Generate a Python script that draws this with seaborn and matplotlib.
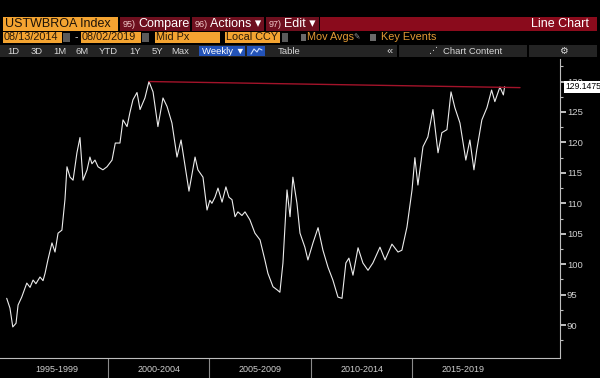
import numpy as np
import pandas as pd
import seaborn as sns
import matplotlib.pyplot as plt
from matplotlib.patches import Rectangle
from matplotlib.lines import Line2D
from matplotlib.transforms import blended_transform_factory

# USTWBROA weekly index (x in decimal years)
years = [1995.01, 1995.17, 1995.31, 1995.47, 1995.57, 1995.75, 1996.00, 1996.16, 1996.31, 1996.45,
         1996.65, 1996.80, 1996.90, 1997.04, 1997.24, 1997.39, 1997.54, 1997.73, 1997.88, 1997.98,
         1998.13, 1998.28, 1998.47, 1998.62, 1998.77, 1998.97, 1999.11, 1999.21, 1999.36, 1999.51,
         1999.75, 1999.95, 2000.20, 2000.36, 2000.59, 2000.74, 2000.94, 2001.08, 2001.23, 2001.43,
         2001.58, 2001.82, 2002.02, 2002.22, 2002.46, 2002.71, 2002.91, 2003.15, 2003.40, 2003.60,
         2003.79, 2003.99, 2004.29, 2004.43, 2004.68, 2004.88, 2005.02, 2005.12, 2005.27, 2005.42,
         2005.62, 2005.81, 2005.96, 2006.11, 2006.26, 2006.40, 2006.60, 2006.75, 2006.99, 2007.24,
         2007.49, 2007.73, 2007.88, 2008.13, 2008.33, 2008.47, 2008.62, 2008.82, 2008.97, 2009.11,
         2009.31, 2009.46, 2009.70, 2009.85, 2010.10, 2010.35, 2010.59, 2010.84, 2011.08, 2011.33,
         2011.53, 2011.72, 2011.87, 2012.07, 2012.32, 2012.56, 2012.81, 2013.05, 2013.40, 2013.65,
         2013.99, 2014.29, 2014.48, 2014.73, 2014.98, 2015.12, 2015.27, 2015.52, 2015.76, 2016.01,
         2016.26, 2016.45, 2016.70, 2016.90, 2017.09, 2017.34, 2017.63, 2017.83, 2018.03, 2018.17,
         2018.42, 2018.67, 2018.90, 2019.06, 2019.31, 2019.48, 2019.54]
index_values = [94.4, 92.8, 89.7, 90.3, 93.3, 94.6, 96.9, 96.2, 97.4, 96.8,
                97.9, 97.3, 98.5, 100.7, 103.5, 102.0, 105.1, 105.6, 110.6, 116.0,
                114.3, 113.8, 118.3, 120.8, 113.8, 115.5, 117.6, 116.5, 117.1, 116.0,
                115.5, 116.0, 117.1, 119.9, 119.9, 123.7, 122.6, 124.9, 127.0, 128.2,
                125.4, 127.3, 130.0, 128.3, 122.6, 127.3, 125.9, 123.2, 117.6, 120.4,
                116.3, 112.0, 117.6, 115.5, 114.3, 108.9, 110.5, 110.0, 111.0, 112.5,
                110.2, 112.7, 111.0, 110.6, 107.8, 108.6, 108.0, 108.6, 107.3, 105.1,
                104.0, 100.7, 98.5, 96.3, 95.8, 95.4, 100.2, 112.2, 107.8, 114.3,
                110.0, 105.1, 102.8, 100.7, 103.5, 106.0, 102.3, 99.5, 97.4, 94.6,
                94.4, 100.2, 101.0, 98.2, 102.7, 100.2, 99.0, 100.2, 102.8, 100.7,
                103.3, 102.0, 102.3, 106.1, 112.2, 117.5, 113.0, 119.3, 120.9, 125.4,
                118.3, 121.6, 122.1, 128.3, 125.7, 123.2, 117.1, 120.4, 115.5, 118.8,
                123.7, 125.7, 128.6, 126.7, 129.1, 127.8, 129.1475]

# red line across the 2002 high and the 2019 highs
resistance_years = [2002.02, 2020.3]
resistance_values = [130.0, 129.0]

last_value = 129.1475
period_edges = [2000, 2005, 2010, 2015]
period_mids = [1997.5, 2002.5, 2007.5, 2012.5, 2017.5]
period_labels = ['1995-1999', '2000-2004', '2005-2009', '2010-2014', '2015-2019']
y_ticks = [90, 95, 100, 105, 110, 115, 120, 125, 130]

W, H = 600, 378
ORANGE = '#f4a431'
DARKRED = '#6e0f1e'
BARRED = '#8a0b1c'
GREY = '#242424'
BLUE = '#2353b8'

sns.set_theme(style='dark', rc={'axes.facecolor': 'black', 'figure.facecolor': 'black',
                                'axes.grid': False})
plt.rcParams['font.family'] = ['Liberation Sans', 'DejaVu Sans']

fig = plt.figure(figsize=(6, 3.78), dpi=100)
ax = fig.add_axes([0, 1 - 358 / H, 560 / W, (358 - 59) / H])

df = pd.DataFrame({'year': years, 'value': index_values})
sns.lineplot(data=df, x='year', y='value', color='#ececec', lw=0.8, ax=ax)
sns.lineplot(x=resistance_years, y=resistance_values, color='#a3132a', lw=1.0, ax=ax)

ax.set_xlim(1994.68, 2022.27)
ax.set_ylim(84.6, 133.7)
ax.set_xlabel('')
ax.set_ylabel('')

# spines
for s in ['left', 'top']:
    ax.spines[s].set_visible(False)
for s in ['right', 'bottom']:
    ax.spines[s].set_visible(True)
    ax.spines[s].set_color('#bdbdbd')
    ax.spines[s].set_linewidth(0.8)

# right y axis
ax.yaxis.tick_right()
ax.set_yticks(y_ticks)
ax.set_yticks(np.arange(87.5, 133, 5), minor=True)
ax.tick_params(axis='y', which='major', direction='out', length=4, width=1.2, color='#e0e0e0',
               labelcolor='#cfcfcf', labelsize=6.8, pad=1)
ax.tick_params(axis='y', which='minor', direction='out', length=2, width=0.8, color='#bdbdbd')

# x axis: yearly minor ticks, labels in the middle of each 5-year block
ax.set_xticks(period_mids)
ax.set_xticklabels(period_labels)
ax.set_xticks(np.arange(1996, 2023, 1), minor=True)
ax.tick_params(axis='x', which='major', length=0, labelcolor='#cfcfcf', labelsize=6.5, pad=5)
ax.tick_params(axis='x', which='minor', direction='out', length=2.5, width=0.8, color='#bdbdbd')
trans = blended_transform_factory(ax.transData, ax.transAxes)
ax.vlines(period_edges, -0.075, 0, transform=trans, clip_on=False, color='#8a8a8a', lw=0.8)

# last value tag
ytrans = blended_transform_factory(ax.transAxes, ax.transData)
ax.text(1.0 + 5 / 560, last_value, '129.1475', transform=ytrans, ha='left', va='center',
        fontsize=6.2, color='black', zorder=10,
        bbox=dict(boxstyle='square,pad=0.15', facecolor='white', edgecolor='none'))


# Bloomberg toolbar (pixel coordinates)
def px_box(x0, y0, x1, y1, color):
    fig.add_artist(Rectangle((x0 / W, 1 - y1 / H), (x1 - x0) / W, (y1 - y0) / H,
                             transform=fig.transFigure, facecolor=color, edgecolor='none'))


def px_text(x, y, s, **kw):
    kw.setdefault('va', 'center')
    fig.text(x / W, 1 - y / H, s, **kw)


# row 1
px_box(3, 17, 118, 31, ORANGE)
px_text(5, 24, 'USTWBROA Index', color='#1c1208', fontsize=9)
for x0, x1, num, label in [(120, 190, '95)', 'Compare'), (192, 264, '96)', 'Actions \u25be'),
                           (266, 319, '97)', 'Edit \u25be')]:
    px_box(x0, 17, x1, 31, DARKRED)
    px_text(x0 + 3, 24.5, num, color='#f0c8c8', fontsize=6.5)
    px_text(x0 + 18, 24, label, color='white', fontsize=9)
px_box(320, 17, 597, 31, BARRED)
px_text(589, 24, 'Line Chart', color='white', fontsize=9, ha='right')

# row 2
for x0, x1, label in [(3, 62, '08/13/2014'), (81, 141, '08/02/2019'),
                      (155, 220, 'Mid Px'), (225, 280, 'Local CCY')]:
    px_box(x0, 32, x1, 43, ORANGE)
    px_text(x0 + 1, 37.5, label, color='#2a1a08', fontsize=7.8)
px_box(63, 33, 70, 42, '#5a5a5a')
px_box(142, 33, 149, 42, '#5a5a5a')
px_box(282, 33, 288, 42, '#5a5a5a')
px_text(76, 37.5, '-', color='#dddddd', fontsize=7.5, ha='center')
px_box(301, 34, 306, 41, '#6a6a6a')
px_text(307, 37.5, 'Mov Avgs', color='#e39a35', fontsize=7.8)
px_text(357, 37.5, '\u270e', color='#9a9a9a', fontsize=5.5, ha='center')
px_box(370, 34, 376, 41, '#6a6a6a')
px_text(381, 37.5, 'Key Events', color='#e39a35', fontsize=7.8)

# row 3
px_box(0, 45, 397, 57, GREY)
px_box(399, 45, 527, 57, GREY)
px_box(529, 45, 597, 57, GREY)
for x, label in [(13, '1D'), (37, '3D'), (60, '1M'), (82, '6M'), (108, 'YTD'),
                 (135, '1Y'), (157, '5Y'), (180, 'Max')]:
    px_text(x, 51, label, color='#d8d8d8', fontsize=6.8, ha='center')
px_box(199, 46, 245, 56, BLUE)
px_text(202, 51, 'Weekly \u25bc', color='white', fontsize=6.8)
px_box(247, 46, 265, 56, BLUE)
fig.add_artist(Line2D([251 / W, 254 / W, 257 / W, 259 / W, 262 / W],
                      [1 - 54 / H, 1 - 49 / H, 1 - 52 / H, 1 - 48.5 / H, 1 - 50 / H],
                      transform=fig.transFigure, color='#cfe0ff', lw=0.8))
px_text(278, 51, 'Table', color='#d8d8d8', fontsize=6.8)
px_text(390, 51, '\u00ab', color='#d8d8d8', fontsize=8, ha='center')
px_text(433, 51, '\u22f0', color='#d8d8d8', fontsize=6.5, ha='center')
px_text(443, 51, 'Chart Content', color='#d8d8d8', fontsize=6.8)
px_text(563, 51, '\u2699', color='#d8d8d8', fontsize=7, ha='center')

fig.savefig('out.png', dpi=100, facecolor='black')
